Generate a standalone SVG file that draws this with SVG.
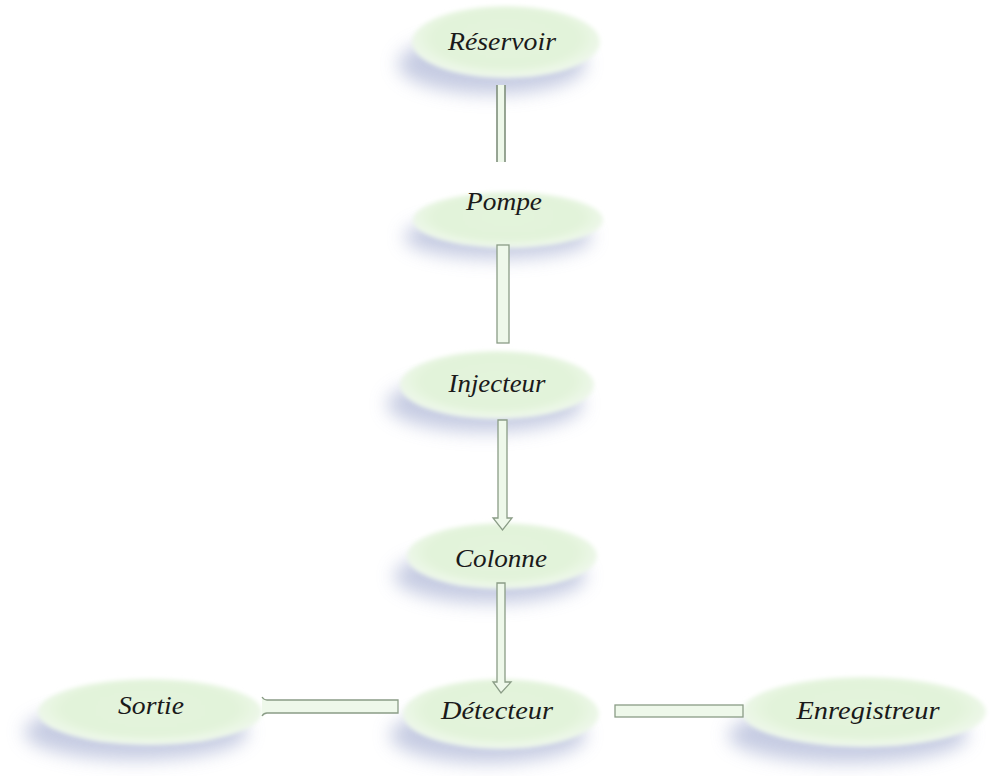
<svg xmlns="http://www.w3.org/2000/svg" width="990" height="776" viewBox="0 0 990 776">
  <defs>
    <radialGradient id="nodeFill" cx="50%" cy="45%" r="55%">
      <stop offset="0" stop-color="#e3f4db"/>
      <stop offset="0.7" stop-color="#e2f3da"/>
      <stop offset="1" stop-color="#f1f9ee"/>
    </radialGradient>
    <filter id="blur" x="-30%" y="-60%" width="160%" height="220%">
      <feGaussianBlur stdDeviation="9"/>
    </filter>
    <filter id="soft" x="-10%" y="-20%" width="120%" height="140%">
      <feGaussianBlur stdDeviation="2.2"/>
    </filter>
  </defs>
  <style>
    .shadow { fill: #b8bfdb; opacity: 0.8; filter: url(#blur); }
    .node { fill: url(#nodeFill); filter: url(#soft); }
    .label { font-family: "Liberation Serif", "Times New Roman", serif; font-style: italic; font-size: 25px; fill: #1a1a1a; text-anchor: middle; }
    .pipe { fill: #eef8ea; stroke: #8a9c86; stroke-width: 1.3; }
    .pipeline { stroke: #7f8f7c; stroke-width: 1.6; fill: none; }
  </style>
  <rect width="990" height="776" fill="#ffffff"/>

  <g id="reservoir">
    <ellipse class="shadow" cx="492" cy="64" rx="94" ry="30"/>
    <ellipse class="node" cx="506" cy="42" rx="94" ry="36"/>
    <text class="label" x="502" y="50" textLength="108" lengthAdjust="spacingAndGlyphs">Réservoir</text>
  </g>

  <g id="pompe">
    <ellipse class="shadow" cx="498" cy="237" rx="94" ry="22"/>
    <ellipse class="node" cx="508" cy="220" rx="95" ry="28"/>
    <text class="label" x="504" y="210" textLength="76" lengthAdjust="spacingAndGlyphs">Pompe</text>
  </g>

  <g id="injecteur">
    <ellipse class="shadow" cx="485" cy="404" rx="98" ry="28"/>
    <ellipse class="node" cx="497" cy="385" rx="97" ry="34"/>
    <text class="label" x="497" y="392" textLength="97" lengthAdjust="spacingAndGlyphs">Injecteur</text>
  </g>

  <g id="colonne">
    <ellipse class="shadow" cx="490" cy="576" rx="96" ry="27"/>
    <ellipse class="node" cx="502" cy="556" rx="95" ry="33"/>
    <text class="label" x="501" y="567" textLength="92" lengthAdjust="spacingAndGlyphs">Colonne</text>
  </g>

  <g id="sortie">
    <ellipse class="shadow" cx="136" cy="732" rx="112" ry="28"/>
    <ellipse class="node" cx="150" cy="712" rx="112" ry="33"/>
    <text class="label" x="151" y="714" textLength="66" lengthAdjust="spacingAndGlyphs">Sortie</text>
  </g>

  <g id="detecteur">
    <ellipse class="shadow" cx="488" cy="735" rx="98" ry="28"/>
    <ellipse class="node" cx="501" cy="714" rx="98" ry="35"/>
    <text class="label" x="497" y="719" textLength="112" lengthAdjust="spacingAndGlyphs">Détecteur</text>
  </g>

  <g id="enregistreur">
    <ellipse class="shadow" cx="848" cy="735" rx="120" ry="28"/>
    <ellipse class="node" cx="864" cy="712" rx="122" ry="35"/>
    <text class="label" x="868" y="719" textLength="143" lengthAdjust="spacingAndGlyphs">Enregistreur</text>
  </g>

  <g id="connectors">
    <rect x="497" y="85" width="8" height="77" fill="#eef8ea"/>
    <path class="pipeline" d="M497 85 V162 M505 85 V162"/>
    <rect class="pipe" x="497" y="245" width="12" height="98"/>
    <path class="pipe" d="M498 420 H507 V518 H512 L502.5 530 L493 518 H498 Z"/>
    <path class="pipe" d="M497 583 H505 V682 H511 L501 693 L493 682 H497 Z"/>
    <path class="pipe" d="M262 697 Q264 700 267 700 H398 V713 H267 Q264 713 262 716"/>
    <rect class="pipe" x="615" y="705" width="128" height="12"/>
  </g>
</svg>
